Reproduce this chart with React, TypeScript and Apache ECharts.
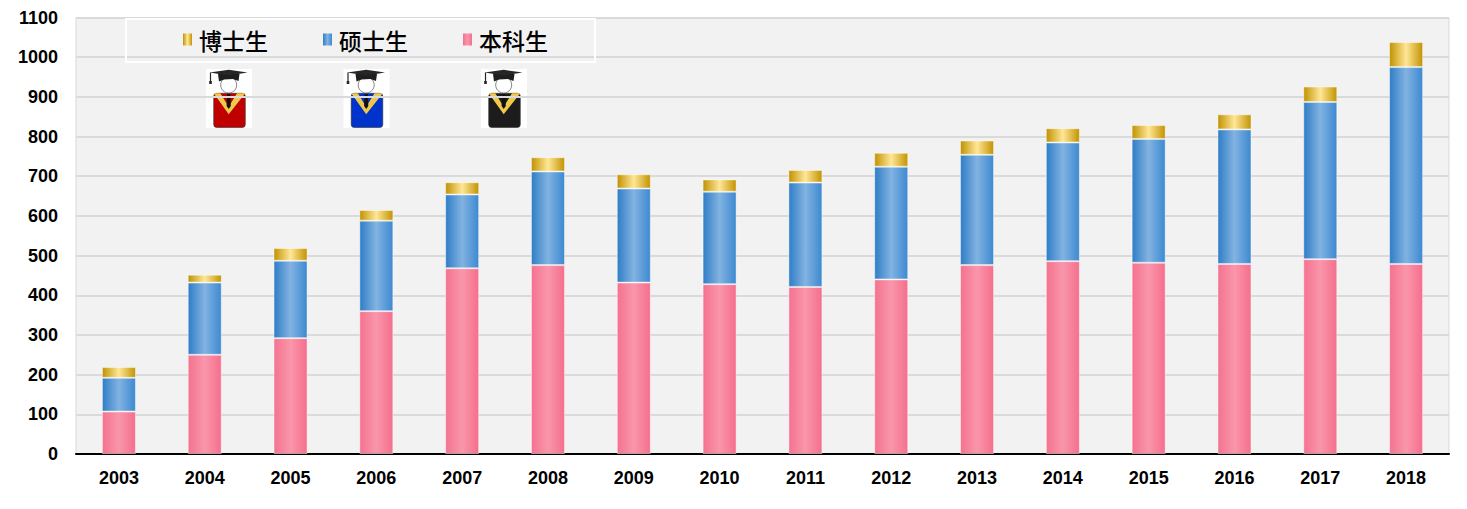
import React, { useEffect, useRef } from "react";
import * as echarts from "echarts";

const categories = ["2003", "2004", "2005", "2006", "2007", "2008", "2009", "2010", "2011", "2012", "2013", "2014", "2015", "2016", "2017", "2018"];
const undergrad = [107, 250, 292, 360, 468, 476, 432, 428, 421, 440, 476, 486, 482, 479, 491, 479];
const master = [85, 182, 195, 228, 186, 236, 237, 233, 263, 284, 278, 299, 312, 339, 396, 496];
const doctor = [27, 20, 32, 27, 31, 36, 36, 31, 32, 35, 36, 36, 35, 38, 39, 63];
const seriesNames = ["本科生", "硕士生", "博士生"];
const legendOrder = ["博士生", "硕士生", "本科生"];
const yTicks = { min: 0, max: 1100, interval: 100 };

const grad = (edgeL: string, mid: string, edgeR: string) =>
  new echarts.graphic.LinearGradient(0, 0, 1, 0, [
    { offset: 0, color: edgeL },
    { offset: 0.5, color: mid },
    { offset: 1, color: edgeR },
  ]);

function gradIcon(x0: number, y0: number, gown: string): any {
  return {
    type: "group",
    x: x0,
    y: y0,
    children: [
      { type: "rect", shape: { x: 0, y: 0, width: 46, height: 59 }, style: { fill: "#ffffff" } },
      // gown
      { type: "rect", shape: { x: 7.7, y: 24.3, width: 31.6, height: 34.2, r: 3 }, style: { fill: gown, stroke: "#333", lineWidth: 0.6 } },
      // collar V
      {
        type: "polygon",
        shape: { points: [[7.7, 24.3], [14.3, 24.3], [22.7, 37.7], [31, 24.3], [39.3, 24.3], [22.7, 45.3]] },
        style: { fill: "#f0c94a" },
      },
      // tie
      { type: "polygon", shape: { points: [[21.2, 24.3], [24.2, 24.3], [24.8, 37], [22.7, 40], [20.6, 37]] }, style: { fill: "#111" } },
      // head
      { type: "circle", shape: { cx: 22.7, cy: 16, r: 8 }, style: { fill: "#ffffff", stroke: "#8a8a8a", lineWidth: 1 } },
      // skull cap
      { type: "polygon", shape: { points: [[12, 5], [33.5, 5], [32.5, 12], [27, 10], [18, 10.5], [13, 12.5]] }, style: { fill: "#1e1e1e" } },
      // board
      { type: "polygon", shape: { points: [[3.7, 3.5], [22.7, 0.8], [41.5, 3.5], [22.7, 6.5]] }, style: { fill: "#262626" } },
      // tassel
      { type: "line", shape: { x1: 4.5, y1: 3.5, x2: 4.5, y2: 13 }, style: { stroke: "#262626", lineWidth: 1.2 } },
      { type: "rect", shape: { x: 3.2, y: 12, width: 2.6, height: 3 }, style: { fill: "#262626" } },
    ],
  };
}

export default function App() {
  const ref = useRef<HTMLDivElement>(null);
  useEffect(() => {
    if (!ref.current) return;
    const chart = echarts.init(ref.current, null, { renderer: "svg" });
    const colors = [
      grad("#f4728f", "#f996ab", "#f56f8c"),
      grad("#2f7dc6", "#82b3e1", "#3d89d1"),
      grad("#c19200", "#ffe797", "#c39300"),
    ];
    const datas = [undergrad, master, doctor];
    chart.setOption({
      animation: false,
      backgroundColor: "#ffffff",
      grid: {
        left: 76,
        right: 18,
        top: 17.5,
        bottom: 55,
        show: true,
        backgroundColor: "#f2f2f2",
        borderColor: "#d9d9d9",
        borderWidth: 1,
      },
      legend: {
        data: legendOrder,
        left: 183,
        top: 28,
        padding: 0,
        itemGap: 55,
        itemWidth: 9,
        itemHeight: 12,
        icon: "rect",
        itemStyle: { borderWidth: 0 },
        textStyle: { fontSize: 23, fontWeight: 500, color: "#000", fontFamily: "Noto Sans CJK SC", padding: [0, 0, 0, 2] },
      },
      xAxis: {
        type: "category",
        data: categories,
        axisLine: { lineStyle: { color: "#000", width: 2 } },
        axisTick: { inside: true, length: 5, lineStyle: { color: "#000", width: 1.5 } },
        axisLabel: { margin: 15, fontSize: 18, fontWeight: "bold", color: "#000", fontFamily: "Liberation Sans" },
        splitLine: { show: false },
      },
      yAxis: {
        type: "value",
        min: yTicks.min,
        max: yTicks.max,
        interval: yTicks.interval,
        axisLine: { show: false },
        axisTick: { show: false },
        axisLabel: {
          margin: 18,
          fontSize: 18,
          fontWeight: "bold",
          color: "#000",
          fontFamily: "Liberation Sans",
          formatter: (v: number) => String(v),
        },
        splitLine: { lineStyle: { color: "#dadada", width: 2 } },
      },
      graphic: [
        {
          type: "rect",
          shape: { x: 126, y: 19, width: 469, height: 43 },
          style: { fill: "none", stroke: "#ffffff", lineWidth: 2 },
          z: 10,
        },
        gradIcon(206, 69, "#c00000"),
        gradIcon(343.5, 69, "#0033cc"),
        gradIcon(481, 69, "#1c1c1c"),
      ],
      series: seriesNames.map((name, i) => ({
        name,
        type: "bar",
        stack: "total",
        barWidth: 34,
        data: datas[i],
        itemStyle: { color: colors[i], borderColor: "rgba(255,255,255,0.45)", borderWidth: 1 },
      })),
    });
    return () => chart.dispose();
  }, []);
  return <div ref={ref} style={{ position: "absolute", left: 0, top: 0, width: 1467, height: 509 }} />;
}
